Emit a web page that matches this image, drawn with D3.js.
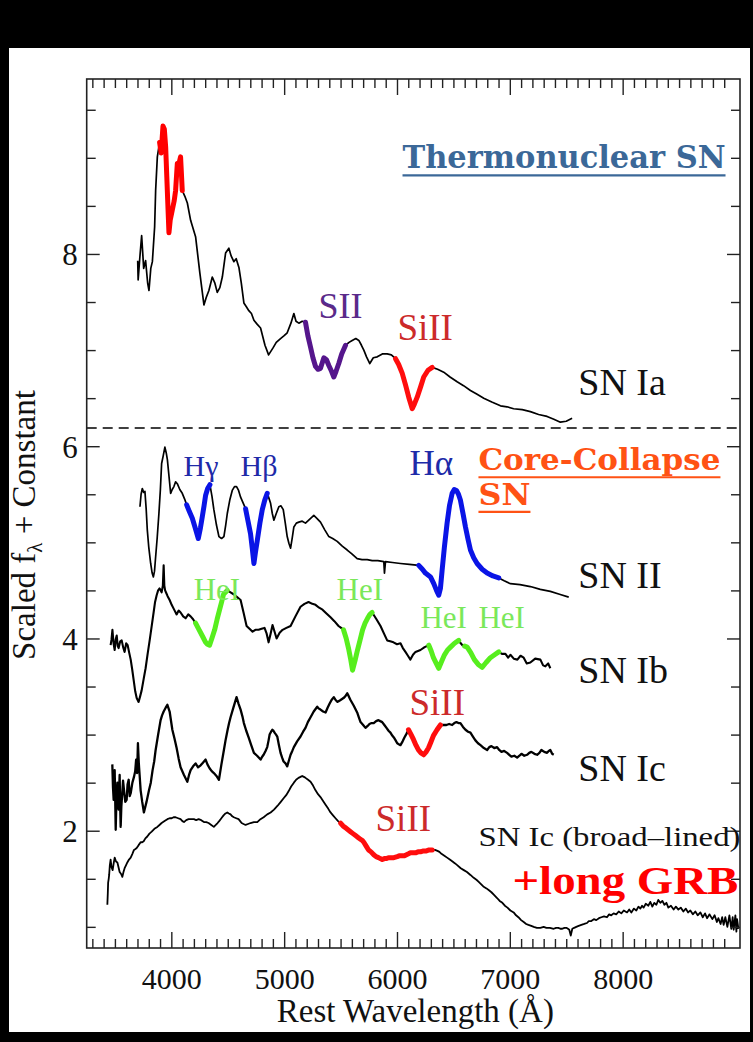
<!DOCTYPE html>
<html><head><meta charset="utf-8">
<script src="https://cdn.jsdelivr.net/npm/d3@7"></script>
<style>
html,body{margin:0;padding:0;background:#000;}
svg{display:block;}
</style></head><body>
<svg id="chart" width="753" height="1042"></svg>
<script>
// Spectra: [rest wavelength (Å), scaled flux + constant]
const snIa = [[3702,7.93],[3706,7.73],[3720,7.95],[3737,8.19],[3755,7.85],[3772,7.93],[3790,7.70],[3802,7.62],[3818,7.85],[3832,7.92],[3852,8.28],[3861,8.66],[3876,9.01],[3896,9.16],[3910,9.05],[3926,9.33],[3938,9.30],[3950,9.11],[3960,8.80],[3970,8.49],[3979,8.22],[3990,8.35],[4009,8.46],[4025,8.55],[4038,8.66],[4053,8.94],[4070,8.95],[4082,9.01],[4097,8.66],[4120,8.60],[4142,8.53],[4171,8.35],[4215,8.18],[4253,7.80],[4289,7.47],[4310,7.55],[4333,7.62],[4363,7.76],[4385,7.70],[4407,7.60],[4430,7.65],[4452,7.76],[4481,8.01],[4510,8.06],[4530,7.98],[4554,7.92],[4575,7.95],[4599,7.86],[4620,7.70],[4643,7.49],[4665,7.45],[4687,7.41],[4710,7.38],[4732,7.31],[4760,7.27],[4791,7.23],[4830,7.05],[4862,6.95],[4900,7.02],[4930,7.08],[4968,7.12],[5000,7.15],[5027,7.18],[5060,7.28],[5086,7.38],[5105,7.30],[5130,7.28],[5160,7.30],[5189,7.29],[5210,7.15],[5234,7.03],[5255,6.92],[5278,6.83],[5300,6.80],[5322,6.81],[5352,6.92],[5375,6.90],[5396,6.84],[5420,6.78],[5440,6.72],[5460,6.78],[5484,6.86],[5510,6.96],[5544,7.05],[5575,7.08],[5603,7.10],[5635,7.12],[5662,7.10],[5685,7.05],[5706,7.00],[5730,6.93],[5759,6.86],[5790,6.92],[5825,6.93],[5870,6.96],[5913,6.96],[5950,6.95],[5987,6.91],[6015,6.85],[6046,6.76],[6075,6.64],[6104,6.51],[6135,6.39],[6155,6.44],[6179,6.51],[6210,6.62],[6237,6.72],[6275,6.79],[6312,6.82],[6360,6.80],[6414,6.77],[6470,6.72],[6533,6.67],[6590,6.63],[6651,6.58],[6710,6.54],[6769,6.50],[6840,6.46],[6917,6.42],[6975,6.41],[7034,6.39],[7110,6.38],[7182,6.36],[7255,6.33],[7330,6.31],[7390,6.28],[7448,6.25],[7500,6.26],[7552,6.29]];

const snII = [[3722,5.37],[3732,5.50],[3743,5.56],[3755,5.52],[3766,5.53],[3777,5.35],[3787,5.13],[3800,4.95],[3817,4.78],[3830,4.68],[3841,4.64],[3851,4.70],[3861,4.85],[3875,5.05],[3890,5.30],[3903,5.55],[3914,5.82],[3928,5.90],[3943,5.99],[3955,5.93],[3965,5.86],[3980,5.68],[3994,5.51],[4008,5.55],[4023,5.58],[4038,5.63],[4053,5.61],[4075,5.55],[4097,5.51],[4118,5.45],[4136,5.39],[4160,5.32],[4186,5.25],[4212,5.15],[4239,5.04],[4258,5.15],[4275,5.27],[4290,5.38],[4304,5.49],[4322,5.56],[4342,5.60],[4360,5.48],[4377,5.34],[4400,5.18],[4422,5.06],[4445,5.04],[4466,5.06],[4482,5.18],[4496,5.30],[4518,5.44],[4540,5.54],[4560,5.58],[4578,5.58],[4596,5.54],[4614,5.47],[4636,5.41],[4658,5.35],[4680,5.22],[4702,5.09],[4718,4.93],[4732,4.78],[4746,4.90],[4762,5.02],[4785,5.20],[4806,5.34],[4828,5.44],[4850,5.51],[4865,5.46],[4879,5.41],[4895,5.30],[4909,5.23],[4930,5.30],[4953,5.37],[4972,5.38],[4992,5.34],[5010,5.20],[5027,5.06],[5042,4.99],[5057,4.94],[5072,5.05],[5086,5.16],[5108,5.20],[5130,5.21],[5160,5.22],[5189,5.20],[5225,5.24],[5263,5.28],[5290,5.25],[5322,5.21],[5360,5.13],[5396,5.06],[5430,5.04],[5470,5.01],[5515,4.96],[5559,4.92],[5600,4.88],[5647,4.83],[5690,4.82],[5736,4.82],[5780,4.81],[5830,4.81],[5883,4.80],[5889,4.68],[5898,4.80],[5960,4.79],[6031,4.78],[6110,4.77],[6193,4.76],[6225,4.72],[6252,4.68],[6297,4.64],[6326,4.57],[6350,4.50],[6370,4.45],[6385,4.52],[6400,4.71],[6420,4.95],[6444,5.20],[6465,5.38],[6489,5.51],[6508,5.55],[6527,5.54],[6545,5.50],[6562,5.44],[6585,5.30],[6607,5.16],[6630,5.03],[6651,4.92],[6680,4.84],[6710,4.78],[6755,4.72],[6799,4.68],[6850,4.65],[6902,4.63],[6950,4.60],[7005,4.57],[7090,4.56],[7182,4.54],[7270,4.51],[7359,4.49],[7440,4.46],[7522,4.43]];

const snIb = [[3462,3.93],[3470,3.99],[3478,4.09],[3488,3.95],[3498,3.88],[3507,3.99],[3516,4.03],[3525,3.92],[3533,3.90],[3547,3.97],[3560,3.98],[3573,3.91],[3586,3.86],[3600,3.95],[3613,3.93],[3627,3.85],[3640,3.78],[3653,3.68],[3666,3.57],[3680,3.45],[3693,3.38],[3710,3.34],[3724,3.40],[3737,3.46],[3755,3.58],[3772,3.69],[3790,3.84],[3808,3.98],[3825,4.12],[3843,4.27],[3856,4.38],[3870,4.45],[3883,4.50],[3896,4.52],[3914,4.48],[3925,4.55],[3932,4.76],[3938,4.55],[3945,4.50],[3956,4.47],[3967,4.44],[3985,4.40],[4003,4.35],[4025,4.30],[4047,4.25],[4065,4.29],[4082,4.27],[4105,4.23],[4127,4.21],[4150,4.25],[4171,4.23],[4193,4.20],[4215,4.16],[4237,4.11],[4260,4.06],[4282,4.01],[4304,3.96],[4320,3.94],[4339,3.93],[4362,4.01],[4384,4.09],[4406,4.20],[4428,4.30],[4446,4.38],[4463,4.46],[4480,4.48],[4496,4.50],[4525,4.48],[4552,4.46],[4583,4.43],[4614,4.40],[4640,4.27],[4667,4.13],[4693,4.10],[4720,4.07],[4745,4.09],[4773,4.09],[4800,4.10],[4826,4.11],[4845,4.05],[4862,3.96],[4880,4.05],[4897,4.14],[4915,4.07],[4933,4.00],[4960,4.06],[4986,4.09],[5020,4.11],[5057,4.13],[5100,4.23],[5145,4.33],[5180,4.36],[5216,4.38],[5250,4.36],[5278,4.35],[5310,4.32],[5340,4.30],[5375,4.26],[5411,4.22],[5445,4.18],[5482,4.13],[5505,4.11],[5526,4.09],[5550,4.00],[5570,3.90],[5590,3.78],[5606,3.67],[5628,3.77],[5650,3.88],[5672,3.98],[5695,4.09],[5717,4.16],[5739,4.21],[5760,4.25],[5780,4.27],[5818,4.20],[5854,4.13],[5885,4.05],[5913,3.98],[5940,3.97],[5969,3.96],[6000,3.94],[6031,3.95],[6052,3.90],[6075,3.86],[6097,3.82],[6119,3.78],[6142,3.83],[6164,3.86],[6186,3.87],[6208,3.88],[6245,3.91],[6282,3.93],[6303,3.87],[6323,3.80],[6348,3.74],[6370,3.69],[6395,3.76],[6421,3.83],[6448,3.88],[6474,3.91],[6510,3.95],[6547,3.98],[6565,3.95],[6580,3.93],[6600,3.92],[6622,3.91],[6655,3.85],[6686,3.78],[6720,3.73],[6754,3.70],[6790,3.75],[6828,3.80],[6865,3.83],[6902,3.86],[6930,3.84],[6961,3.84],[6985,3.80],[7005,3.83],[7035,3.79],[7067,3.78],[7095,3.82],[7123,3.80],[7150,3.74],[7182,3.75],[7225,3.79],[7271,3.78],[7295,3.72],[7315,3.71],[7340,3.74],[7359,3.69]];

const snIc = [[3477,2.69],[3483,2.45],[3489,2.32],[3494,2.55],[3498,2.63],[3503,2.30],[3507,2.01],[3514,2.35],[3522,2.50],[3527,2.30],[3533,2.22],[3538,2.45],[3542,2.58],[3546,2.30],[3551,2.04],[3557,2.25],[3564,2.37],[3572,2.52],[3580,2.43],[3592,2.30],[3604,2.32],[3612,2.48],[3622,2.53],[3631,2.36],[3640,2.39],[3655,2.50],[3669,2.56],[3680,2.62],[3688,2.74],[3697,2.60],[3704,2.91],[3712,2.70],[3719,2.58],[3728,2.42],[3742,2.30],[3757,2.19],[3780,2.30],[3802,2.42],[3818,2.50],[3834,2.63],[3848,2.72],[3861,2.84],[3883,3.00],[3905,3.15],[3918,3.20],[3932,3.24],[3950,3.28],[3965,3.31],[3985,3.24],[4009,3.05],[4028,2.96],[4047,2.86],[4065,2.75],[4082,2.66],[4112,2.58],[4142,2.51],[4157,2.58],[4171,2.63],[4193,2.67],[4215,2.70],[4237,2.66],[4260,2.68],[4282,2.71],[4304,2.74],[4320,2.69],[4339,2.65],[4358,2.62],[4377,2.60],[4400,2.57],[4422,2.53],[4444,2.69],[4466,2.84],[4482,2.95],[4499,3.05],[4512,3.12],[4525,3.18],[4550,3.28],[4578,3.39],[4596,3.32],[4614,3.26],[4630,3.19],[4643,3.12],[4664,3.04],[4685,2.97],[4708,2.89],[4732,2.81],[4760,2.78],[4791,2.74],[4805,2.77],[4818,2.79],[4835,2.83],[4850,2.87],[4862,2.94],[4871,3.00],[4884,3.03],[4895,3.05],[4905,3.04],[4915,3.02],[4928,3.00],[4939,2.98],[4952,2.90],[4968,2.81],[4982,2.76],[4995,2.72],[5012,2.70],[5027,2.67],[5042,2.73],[5057,2.79],[5072,2.83],[5086,2.87],[5115,2.93],[5145,2.98],[5168,3.03],[5189,3.07],[5210,3.13],[5234,3.18],[5262,3.24],[5293,3.29],[5308,3.27],[5322,3.26],[5345,3.24],[5367,3.23],[5385,3.28],[5402,3.32],[5420,3.36],[5440,3.39],[5456,3.36],[5473,3.34],[5486,3.35],[5500,3.36],[5513,3.37],[5526,3.38],[5543,3.40],[5559,3.43],[5572,3.40],[5588,3.36],[5617,3.30],[5647,3.23],[5662,3.18],[5677,3.13],[5700,3.10],[5721,3.07],[5740,3.09],[5756,3.11],[5775,3.12],[5794,3.12],[5815,3.14],[5836,3.15],[5852,3.14],[5869,3.13],[5888,3.10],[5907,3.07],[5925,3.04],[5942,3.02],[5958,2.99],[5972,2.97],[5988,2.94],[6002,2.91],[6016,2.90],[6031,2.89],[6050,2.93],[6066,2.97],[6085,3.01],[6102,3.05],[6125,3.00],[6146,2.95],[6168,2.89],[6190,2.84],[6212,2.81],[6237,2.79],[6258,2.82],[6279,2.86],[6300,2.92],[6323,2.99],[6355,3.05],[6385,3.10],[6410,3.10],[6438,3.10],[6462,3.11],[6489,3.10],[6508,3.12],[6527,3.13],[6545,3.12],[6562,3.12],[6585,3.08],[6607,3.05],[6630,3.03],[6651,3.02],[6673,2.98],[6695,2.94],[6718,2.91],[6740,2.89],[6770,2.86],[6799,2.84],[6818,2.87],[6837,2.88],[6862,2.86],[6887,2.87],[6906,2.84],[6926,2.82],[6950,2.83],[6976,2.81],[6995,2.79],[7014,2.77],[7040,2.78],[7065,2.76],[7085,2.78],[7103,2.80],[7128,2.78],[7153,2.79],[7172,2.81],[7191,2.82],[7218,2.80],[7242,2.79],[7262,2.81],[7280,2.84],[7305,2.82],[7330,2.81],[7345,2.83],[7359,2.84],[7375,2.80],[7389,2.79]];

const snIcBL = [[3433,1.23],[3437,1.35],[3440,1.46],[3445,1.50],[3449,1.54],[3455,1.64],[3462,1.70],[3470,1.62],[3480,1.59],[3489,1.66],[3498,1.72],[3510,1.68],[3522,1.67],[3532,1.62],[3542,1.57],[3555,1.55],[3566,1.52],[3576,1.57],[3586,1.61],[3598,1.64],[3610,1.67],[3625,1.70],[3640,1.72],[3655,1.76],[3669,1.80],[3682,1.81],[3693,1.82],[3710,1.85],[3728,1.88],[3742,1.88],[3755,1.89],[3770,1.92],[3787,1.94],[3806,1.97],[3826,1.99],[3850,2.02],[3876,2.04],[3895,2.06],[3914,2.08],[3940,2.10],[3965,2.12],[3985,2.13],[4003,2.13],[4020,2.14],[4038,2.14],[4060,2.13],[4082,2.12],[4098,2.10],[4112,2.09],[4132,2.11],[4153,2.12],[4176,2.12],[4200,2.12],[4220,2.11],[4242,2.12],[4265,2.11],[4289,2.09],[4310,2.09],[4330,2.08],[4354,2.06],[4377,2.04],[4394,2.06],[4410,2.08],[4424,2.10],[4437,2.12],[4450,2.14],[4463,2.16],[4480,2.18],[4496,2.19],[4510,2.18],[4525,2.17],[4540,2.15],[4554,2.14],[4575,2.13],[4596,2.12],[4610,2.10],[4623,2.08],[4640,2.07],[4658,2.06],[4680,2.07],[4702,2.08],[4732,2.09],[4762,2.09],[4790,2.12],[4818,2.14],[4850,2.17],[4880,2.19],[4910,2.22],[4942,2.26],[4970,2.30],[4997,2.34],[5018,2.37],[5039,2.41],[5062,2.46],[5086,2.50],[5106,2.53],[5127,2.55],[5145,2.56],[5160,2.57],[5175,2.56],[5189,2.55],[5212,2.53],[5234,2.51],[5256,2.47],[5278,2.42],[5300,2.38],[5322,2.35],[5345,2.31],[5367,2.27],[5390,2.23],[5411,2.19],[5433,2.16],[5455,2.13],[5478,2.10],[5500,2.08],[5522,2.05],[5544,2.03],[5566,2.01],[5588,1.99],[5610,1.97],[5633,1.95],[5655,1.93],[5677,1.91],[5692,1.90],[5706,1.88],[5727,1.84],[5748,1.80],[5770,1.78],[5794,1.75],[5815,1.73],[5836,1.72],[5852,1.71],[5869,1.70],[5888,1.71],[5907,1.71],[5925,1.72],[5942,1.72],[5972,1.72],[6002,1.73],[6025,1.74],[6049,1.74],[6066,1.74],[6084,1.75],[6102,1.76],[6119,1.77],[6140,1.77],[6164,1.77],[6186,1.78],[6208,1.78],[6235,1.79],[6261,1.79],[6285,1.80],[6312,1.80],[6336,1.80],[6359,1.79],[6376,1.78],[6394,1.76],[6420,1.74],[6444,1.72],[6468,1.70],[6492,1.68],[6515,1.66],[6536,1.64],[6565,1.61],[6592,1.59],[6620,1.57],[6651,1.54],[6680,1.51],[6704,1.49],[6722,1.47],[6740,1.45],[6765,1.42],[6793,1.40],[6815,1.38],[6837,1.36],[6862,1.33],[6887,1.30],[6910,1.27],[6934,1.25],[6956,1.22],[6979,1.20],[7005,1.17],[7034,1.15],[7055,1.12],[7076,1.10],[7100,1.07],[7123,1.05],[7145,1.03],[7165,1.02],[7190,1.01],[7212,1.00],[7240,0.99],[7271,0.99],[7300,1.00],[7324,0.99],[7355,0.99],[7389,0.98],[7410,0.99],[7430,0.99],[7448,0.98],[7465,0.98],[7484,0.99],[7501,0.99],[7515,0.98],[7527,0.97],[7540,0.91],[7554,0.98],[7570,0.99],[7589,1.00],[7610,1.01],[7634,1.02],[7660,1.03],[7684,1.04],[7700,1.06],[7722,1.06],[7745,1.08],[7766,1.07],[7790,1.09],[7811,1.10],[7835,1.11],[7861,1.10],[7880,1.13],[7899,1.12],[7920,1.14],[7943,1.13],[7965,1.16],[7988,1.14],[8010,1.17],[8039,1.15],[8058,1.18],[8077,1.15],[8100,1.19],[8121,1.17],[8140,1.21],[8157,1.19],[8172,1.22],[8186,1.20],[8205,1.24],[8228,1.22],[8245,1.26],[8263,1.21],[8280,1.25],[8299,1.23],[8316,1.28],[8334,1.25],[8352,1.27],[8370,1.23],[8388,1.25],[8405,1.20],[8428,1.22],[8452,1.18],[8472,1.21],[8494,1.18],[8515,1.20],[8538,1.16],[8560,1.19],[8580,1.15],[8600,1.17],[8622,1.13],[8644,1.16],[8665,1.12],[8689,1.15],[8710,1.10],[8730,1.14],[8748,1.09],[8770,1.13],[8795,1.08],[8815,1.12],[8835,1.05],[8848,1.09],[8868,1.03],[8882,1.10],[8895,1.02],[8910,1.10],[8928,1.00],[8946,1.12],[8963,0.98],[8975,1.10],[8984,0.97],[8999,1.12],[9008,0.95],[9014,1.08],[9026,0.98]];

// Line identifications: spectrum, wavelength range, ion
const features = [
  {spec:"Ia", from:3896, to:4097, ion:"CaII"},
  {spec:"Ia", from:5189, to:5544, ion:"SII"},
  {spec:"Ia", from:5987, to:6312, ion:"SiII"},
  {spec:"II", from:4136, to:4342, ion:"H"},
  {spec:"II", from:4658, to:4850, ion:"H"},
  {spec:"II", from:6193, to:6902, ion:"H"},
  {spec:"Ib", from:4215, to:4496, ion:"HeI"},
  {spec:"Ib", from:5526, to:5780, ion:"HeI"},
  {spec:"Ib", from:6282, to:6547, ion:"HeI"},
  {spec:"Ib", from:6600, to:6902, ion:"HeI"},
  {spec:"Ic", from:6102, to:6385, ion:"SiII"},
  {spec:"IcBL", from:5500, to:6312, ion:"SiII"}
];

// Spectrum names and ion labels: [text, wavelength, flux level]
const specNames = [["SN Ia",7607,6.53],["SN II",7607,4.52],["SN Ib",7607,3.54],["SN Ic",7607,2.52]];
const ionLabels = [
  {text:"SII", ion:"SII", x:5305, y:7.33},
  {text:"SiII", ion:"SiII", x:6004, y:7.10},
  {text:"Hγ", ion:"H", x:4109, y:5.69},
  {text:"Hβ", ion:"H", x:4614, y:5.69},
  {text:"Hα", ion:"H", x:6111, y:5.70},
  {text:"HeI", ion:"HeI", x:4198, y:4.40},
  {text:"HeI", ion:"HeI", x:5465, y:4.40},
  {text:"HeI", ion:"HeI", x:6208, y:4.11},
  {text:"HeI", ion:"HeI", x:6722, y:4.11},
  {text:"SiII", ion:"SiII", x:6111, y:3.20},
  {text:"SiII", ion:"SiII", x:5810, y:2.00}
];
const divider = 6.19;
const xMajor = [4000,5000,6000,7000,8000];
const yMajor = [2,4,6,8];

const spectra = {Ia:snIa, II:snII, Ib:snIb, Ic:snIc, IcBL:snIcBL};

const svg = d3.select("#chart");
const SERIF = "Liberation Serif, Times New Roman, serif";
const TITLE_SERIF = "DejaVu Serif, serif";

// white page inside the dark frame
svg.append("rect").attr("x",9).attr("y",48).attr("width",741).attr("height",984).attr("fill","#fff");

const x = d3.scaleLinear().domain([3250, 9040]).range([86.7, 740]);
const y = d3.scaleLinear().domain([0.78, 9.82]).range([948, 79]);

const lineColor = {CaII:"#ff0000", SII:"#55168c", SiII:"#ff0d0d", H:"#0a14e6", HeI:"#57ee1e"};
const textColor = {SII:"#5a2a8a", SiII:"#cc2a2a", H:"#1e2aa8", HeI:"#7ae85a"};
const strokeW = {Ia:1.7, II:1.7, Ib:2.1, Ic:2.3, IcBL:1.8};

const line = d3.line().x(d => x(d[0])).y(d => y(d[1]));

const plot = svg.append("g");
Object.entries(spectra).forEach(([k, s]) => {
  plot.append("path").datum(s).attr("d", line)
    .attr("fill","none").attr("stroke","#000").attr("stroke-width",strokeW[k]).attr("stroke-linejoin","round");
});
features.forEach(f => {
  const pts = spectra[f.spec].filter(d => d[0] >= f.from && d[0] <= f.to);
  plot.append("path").datum(pts).attr("d", line)
    .attr("fill","none").attr("stroke", lineColor[f.ion]).attr("stroke-width",5)
    .attr("stroke-linejoin","round").attr("stroke-linecap","round");
});

// dashed divider between thermonuclear and core-collapse
svg.append("line").attr("x1",x.range()[0]).attr("x2",x.range()[1])
  .attr("y1",y(divider)).attr("y2",y(divider))
  .attr("stroke","#000").attr("stroke-width",1.6).attr("stroke-dasharray","10,6");

// axes with inward ticks on all four sides
const xMinor = d3.range(3300, 9040, 100).filter(v => v % 1000 !== 0);
const yMinor = d3.range(1, 9.9, 0.5).filter(v => v % 2 !== 0);
function axisSet(gen, sel, major, minor, majLen, minLen, labels) {
  sel.call(gen.tickValues(minor).tickSize(-minLen).tickFormat(""));
  return sel.append("g").call(gen.tickValues(major).tickSize(-majLen).tickFormat(labels ? d3.format("d") : ""));
}
const axStyle = g => {
  g.selectAll(".domain").remove();
  g.selectAll("line").attr("stroke","#222").attr("stroke-width",1.4);
  g.selectAll("text").attr("fill","#111").attr("font-family",SERIF);
};
const gB = svg.append("g").attr("transform",`translate(0,${y.range()[0]})`);
const bMaj = axisSet(d3.axisBottom(x), gB, xMajor, xMinor, 16, 9, true);
[gB,bMaj].forEach(axStyle);
bMaj.selectAll("text").attr("font-size",30).attr("dy","1.25em");
const gT = svg.append("g").attr("transform",`translate(0,${y.range()[1]})`);
const tMaj = axisSet(d3.axisTop(x), gT, xMajor, xMinor, 16, 9, false);
[gT,tMaj].forEach(axStyle);
const gL = svg.append("g").attr("transform",`translate(${x.range()[0]},0)`);
const lMaj = axisSet(d3.axisLeft(y), gL, yMajor, yMinor, 13, 9, true);
[gL,lMaj].forEach(axStyle);
lMaj.selectAll("text").attr("font-size",31).attr("x",-9).attr("dy","0.35em");
const gR = svg.append("g").attr("transform",`translate(${x.range()[1]},0)`);
const rMaj = axisSet(d3.axisRight(y), gR, yMajor, yMinor, 13, 9, false);
[gR,rMaj].forEach(axStyle);

// frame
svg.append("rect").attr("x",x.range()[0]).attr("y",y.range()[1])
  .attr("width",x.range()[1]-x.range()[0]).attr("height",y.range()[0]-y.range()[1])
  .attr("fill","none").attr("stroke","#222").attr("stroke-width",1.6);

// axis titles
svg.append("text").attr("x",(x.range()[0]+x.range()[1])/2 + 2).attr("y",1022)
  .attr("text-anchor","middle").attr("font-family",SERIF).attr("font-size",33)
  .attr("fill","#111").text("Rest Wavelength (Å)");
const yt = svg.append("text").attr("transform","translate(35,525) rotate(-90)")
  .attr("text-anchor","middle").attr("font-family",SERIF).attr("font-size",33).attr("fill","#111");
yt.append("tspan").text("Scaled f");
yt.append("tspan").attr("font-size",21).attr("dy",7).text("λ");
yt.append("tspan").attr("dy",-7).text(" + Constant");

// stretch a text to span the wanted width at its own font size
function fitWidth(sel, width) {
  return sel.attr("textLength", width).attr("lengthAdjust","spacingAndGlyphs");
}

// spectrum names
specNames.forEach(([t,wl,v]) => {
  svg.append("text").attr("x",x(wl)).attr("y",y(v)).attr("font-family",SERIF)
    .attr("font-size",38).attr("fill","#111").text(t);
});
fitWidth(svg.append("text").attr("x",x(6722)).attr("y",y(1.84)).attr("font-family",SERIF)
  .attr("font-size",28).attr("fill","#111").text("SN Ic (broad–lined)"), 262);
fitWidth(svg.append("text").attr("x",x(7023)).attr("y",y(1.34)).attr("font-family",SERIF)
  .attr("font-weight","bold").attr("font-size",40).attr("fill","#ff0000").text("+long GRB"), 226);

// ion labels
const ionSize = {SII:36, SiII:37, H:30, HeI:31};
ionLabels.forEach(l => {
  svg.append("text").attr("x",x(l.x)).attr("y",y(l.y)).attr("font-family",SERIF)
    .attr("font-size", l.text === "Hα" ? 35 : ionSize[l.ion]).attr("fill",textColor[l.ion]).text(l.text);
});

// underlined category titles
function title(txt, wl, v, width, col, size) {
  const t = fitWidth(svg.append("text").attr("x",x(wl)).attr("y",y(v)).attr("font-family",TITLE_SERIF)
    .attr("font-weight","bold").attr("font-size",size).attr("fill",col).text(txt), width);
  svg.append("line").attr("x1",x(wl)).attr("x2",x(wl)+width).attr("y1",y(v)+7).attr("y2",y(v)+7)
    .attr("stroke",col).attr("stroke-width",2.2);
  return t;
}
title("Thermonuclear SN", 6049, 8.89, 323, "#3b6898", 31);
title("Core-Collapse", 6722, 5.75, 242, "#ff5214", 30);
title("SN", 6722, 5.39, 52, "#ff5214", 30);
</script>
</body></html>
